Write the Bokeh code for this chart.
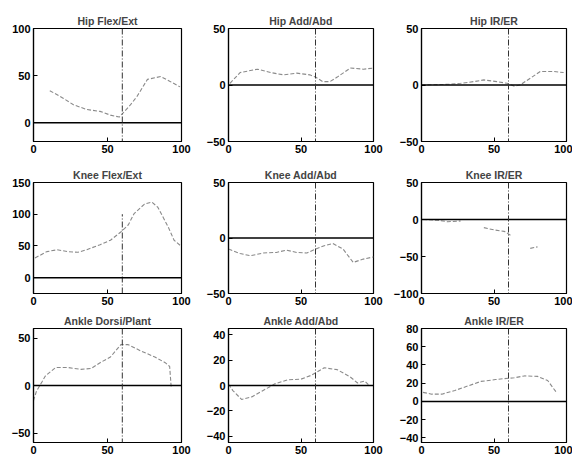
import numpy as np
from bokeh.plotting import figure
from bokeh.layouts import gridplot
from bokeh.models import Range1d, FixedTicker, Span
from bokeh.embed import file_html
from bokeh.resources import INLINE

nan = float("nan")

titles = ["Hip Flex/Ext", "Hip Add/Abd", "Hip IR/ER",
          "Knee Flex/Ext", "Knee Add/Abd", "Knee IR/ER",
          "Ankle Dorsi/Plant", "Ankle Add/Abd", "Ankle IR/ER"]

# y-axis limits and ticks per panel
y_limits = [(-20, 100), (-50, 50), (-50, 50),
            (-25, 150), (-50, 50), (-100, 50),
            (-60, 60), (-45, 45), (-45, 80)]
y_ticks = [[0, 50, 100], [-50, 0, 50], [-50, 0, 50],
           [0, 50, 100, 150], [-50, 0, 50], [-100, -50, 0, 50],
           [-50, 0, 50], [-40, -20, 0, 20, 40], [-40, -20, 0, 20, 40, 60, 80]]
x_ticks = [0, 50, 100]
event_x = 60
event_top = [None, None, None, 100, None, None, None, None, None]

# curves (% gait cycle, degrees)
hip_flex_x = [11, 20, 27, 36, 45, 52, 58, 65, 70, 77, 86, 92, 99]
hip_flex_y = [34, 26, 19, 14, 12, 8, 6, 18, 28, 46, 49, 44, 38]

hip_add_x = [1, 8, 20, 29, 38, 47, 56, 60, 65, 70, 75, 84, 93, 100]
hip_add_y = [1.5, 11, 14, 11, 9, 10.5, 9, 7, 3, 3, 7, 15, 14, 15]

hip_rot_x = [0, 18, 27, 36, 43, 52, 59, 64, 68, 82, 91, 98]
hip_rot_y = [0, 0.6, 1.5, 3, 4.5, 3, 1.5, -1, 0, 12, 12, 11]

knee_flex_x = [1, 9, 16, 23, 30, 36, 45, 52, 59, 64, 68, 75, 80, 84, 91, 95, 100]
knee_flex_y = [31, 41, 44, 41, 40, 44, 52, 59, 72, 83, 101, 116, 119, 111, 80, 59, 49]

knee_add_x = [0, 8, 15, 24, 33, 40, 47, 54, 60, 66, 72, 79, 86, 93, 100]
knee_add_y = [-10, -14, -16, -13.5, -13, -11, -13, -13.5, -10, -7, -5, -10, -22, -19, -17]

knee_rot_x = [1, 11, 18, 27, 35, 43, 50, 57, 62, 68, 75, 80]
knee_rot_y = [0, -1, -3, -2, nan, -11, -14, -16, -22, nan, -39, -37]

ankle_df_x = [0, 2, 6, 8, 15, 23, 32, 39, 45, 52, 59, 64, 73, 82, 89, 92, 93]
ankle_df_y = [-16, -6, 4.5, 10, 19, 19, 17, 18, 24, 30, 43, 43, 36, 30, 24, 20, -1]

ankle_add_x = [0, 3, 9, 16, 23, 32, 41, 50, 57, 66, 75, 84, 89, 94, 97]
ankle_add_y = [1, -4, -11, -9, -4.5, 1.3, 4.5, 5, 8, 14, 12.5, 6.7, 2, 3.5, 0]

ankle_rot_x = [1, 7, 14, 23, 32, 41, 51, 57, 64, 71, 80, 87, 93]
ankle_rot_y = [10, 8, 8, 12, 17, 22, 24, 25, 26, 28, 27.5, 23, 10]

curves_x = [hip_flex_x, hip_add_x, hip_rot_x, knee_flex_x, knee_add_x,
            knee_rot_x, ankle_df_x, ankle_add_x, ankle_rot_x]
curves_y = [hip_flex_y, hip_add_y, hip_rot_y, knee_flex_y, knee_add_y,
            knee_rot_y, ankle_df_y, ankle_add_y, ankle_rot_y]

# layout borders (pixels)
col_left = [33, 32, 32]
col_frame = [148, 145, 145]
col_right = [15, 16, 6]
row_top = [28, 24, 18]
row_frame = [113, 111, 114]
row_bottom = [17, 17, 18]

FONT = "Liberation Sans"

figs = []
for i in range(9):
    r, c = divmod(i, 3)
    w = col_left[c] + col_frame[c] + col_right[c]
    h = row_top[r] + row_frame[r] + row_bottom[r]
    p = figure(width=w, height=h, output_backend="svg", toolbar_location=None,
               x_range=Range1d(0, 100), y_range=Range1d(*y_limits[i]),
               min_border_left=col_left[c], min_border_right=col_right[c],
               min_border_top=row_top[r], min_border_bottom=row_bottom[r],
               title=titles[i])
    p.title.align = "center"
    p.title.text_font = FONT
    p.title.text_font_size = "10.5px"
    p.title.text_font_style = "bold"
    p.title.standoff = 3
    p.title.offset = 0
    p.grid.visible = False
    p.outline_line_color = "black"
    p.outline_line_width = 1.2
    p.background_fill_color = "white"
    p.border_fill_color = "white"
    p.xaxis.ticker = FixedTicker(ticks=x_ticks)
    p.yaxis.ticker = FixedTicker(ticks=y_ticks[i])
    for ax in (p.xaxis, p.yaxis):
        ax.axis_line_color = "black"
        ax.axis_line_width = 1.2
        ax.major_tick_in = 4
        ax.major_tick_out = 0
        ax.minor_tick_line_color = None
        ax.major_label_text_font = FONT
        ax.major_label_text_font_size = "11px"
        ax.major_label_text_font_style = "bold"
        ax.major_label_text_color = "black"
        ax.major_label_standoff = 3
    # zero line
    p.add_layout(Span(location=0, dimension="width", line_color="black", line_width=1.5))
    # event line
    if event_top[i] is None:
        p.add_layout(Span(location=event_x, dimension="height", line_color="#333333",
                          line_width=1, line_dash="6 2 1 2"))
    else:
        p.segment(x0=[event_x], y0=[y_limits[i][0]], x1=[event_x], y1=[event_top[i]],
                  line_color="#333333", line_width=1, line_dash="6 2 1 2")
    p.line(np.array(curves_x[i], dtype=float), np.array(curves_y[i], dtype=float),
           line_color="#8a8a8a", line_width=1.1, line_dash="4 2")
    figs.append(p)

grid = gridplot([figs[0:3], figs[3:6], figs[6:9]], toolbar_location=None)

open("out.html", "w").write(file_html(grid, INLINE))
